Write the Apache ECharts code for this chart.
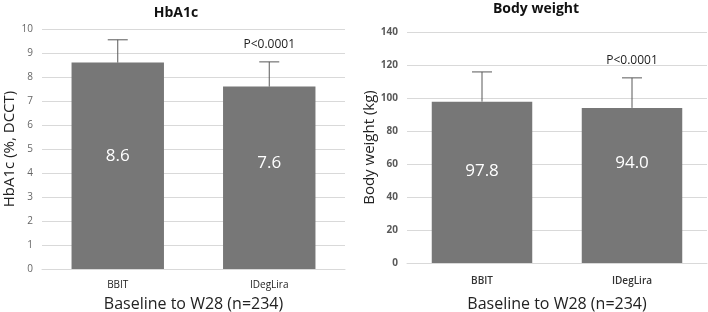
<!DOCTYPE html>
<html>
<head>
<meta charset="utf-8">
<script src="https://cdn.jsdelivr.net/npm/echarts@6/dist/echarts.min.js"></script>
<style>
  html, body { margin: 0; padding: 0; background: #fff; }
  #chart { width: 708px; height: 312px; }
</style>
</head>
<body>
<div id="chart"></div>
<script>
// data
const categories = ['BBIT', 'IDegLira'];
const hba1cMean = [8.6, 7.6];
const hba1cSD = [0.95, 1.03];
const weightMean = [97.8, 94.0];
const weightSD = [18.0, 18.2];
const pLabels = ['', 'P<0.0001'];
const hba1cLabelOffset = [-10, -15];
const weightLabelOffset = [-11, -22];

const FONT = '"Open Sans", "Noto Sans", sans-serif';
const BAR = '#777777';
const WHISKER = '#595959';

function errorBarItem(params, api) {
  const i = params.dataIndex;
  const top = api.coord([api.value(0), api.value(1) + api.value(2)]);
  const base = api.coord([api.value(0), api.value(1)]);
  const half = 10;
  const style = { stroke: WHISKER, lineWidth: 1 };
  const children = [
    { type: 'line', shape: { x1: top[0], y1: top[1], x2: base[0], y2: base[1] }, style },
    { type: 'line', shape: { x1: top[0] - half, y1: top[1], x2: top[0] + half, y2: top[1] }, style }
  ];
  if (pLabels[i]) {
    children.push({
      type: 'text',
      x: top[0], y: top[1] - 11,
      style: { text: pLabels[i], fill: '#222', font: '12px ' + FONT, align: 'center', verticalAlign: 'bottom' }
    });
  }
  return { type: 'group', children };
}

const chart = echarts.init(document.getElementById('chart'));

const axisCommon = {
  axisLine: { show: false },
  axisTick: { show: false },
  splitLine: { lineStyle: { color: '#d9d9d9' } },
  nameLocation: 'middle',
  nameTextStyle: { color: '#222', fontSize: 15, fontFamily: FONT }
};

const xCommon = {
  type: 'category',
  data: categories,
  axisLine: { lineStyle: { color: '#d9d9d9' } },
  axisTick: { show: false },
  nameLocation: 'middle',
  nameTextStyle: { color: '#222', fontSize: 16, fontFamily: FONT }
};

chart.setOption({
  animation: false,
  title: [
    { text: 'HbA1c', left: 171, top: 1, textAlign: 'center',
      textStyle: { fontSize: 14, fontWeight: 'bold', color: '#111', fontFamily: FONT } },
    { text: 'Body weight', left: 531, top: -3, textAlign: 'center',
      textStyle: { fontSize: 14, fontWeight: 'bold', color: '#111', fontFamily: FONT } }
  ],
  grid: [
    { left: 42, right: 363, top: 29, bottom: 43, outerBoundsMode: 'none', containLabel: false },
    { left: 407, right: 1, top: 32, bottom: 49, outerBoundsMode: 'none', containLabel: false }
  ],
  xAxis: [
    Object.assign({}, xCommon, { gridIndex: 0, name: 'Baseline to W28 (n=234)', nameGap: 27,
      axisLabel: { color: '#222', fontSize: 10, fontFamily: FONT, margin: 11 } }),
    Object.assign({}, xCommon, { gridIndex: 1, name: 'Baseline to W28 (n=234)', nameGap: 33,
      axisLabel: { color: '#333', fontSize: 10, fontWeight: 600, fontFamily: FONT, margin: 13 } })
  ],
  yAxis: [
    Object.assign({}, axisCommon, { gridIndex: 0, type: 'value', min: 0, max: 10, interval: 1,
      axisLabel: { color: '#666', fontSize: 10, fontFamily: FONT, margin: 9 },
      name: 'HbA1c (%, DCCT)', nameGap: 25 }),
    Object.assign({}, axisCommon, { gridIndex: 1, type: 'value', min: 0, max: 140, interval: 20,
      axisLabel: { color: '#595959', fontSize: 10, fontWeight: 'bold', fontFamily: FONT, margin: 9 },
      name: 'Body weight (kg)', nameGap: 30 })
  ],
  series: [
    {
      type: 'bar', xAxisIndex: 0, yAxisIndex: 0, barWidth: '61%',
      itemStyle: { color: BAR },
      data: hba1cMean.map((v, i) => ({
        value: v,
        label: { show: true, position: 'inside', offset: [0, hba1cLabelOffset[i]],
          color: '#fff', fontSize: 17, fontFamily: FONT, formatter: (p) => p.value.toFixed(1) }
      }))
    },
    {
      type: 'custom', xAxisIndex: 0, yAxisIndex: 0, z: 5,
      renderItem: errorBarItem,
      data: categories.map((c, i) => [i, hba1cMean[i], hba1cSD[i]])
    },
    {
      type: 'bar', xAxisIndex: 1, yAxisIndex: 1, barWidth: '67%',
      itemStyle: { color: BAR },
      data: weightMean.map((v, i) => ({
        value: v,
        label: { show: true, position: 'inside', offset: [0, weightLabelOffset[i]],
          color: '#fff', fontSize: 17, fontFamily: FONT, formatter: (p) => p.value.toFixed(1) }
      }))
    },
    {
      type: 'custom', xAxisIndex: 1, yAxisIndex: 1, z: 5,
      renderItem: errorBarItem,
      data: categories.map((c, i) => [i, weightMean[i], weightSD[i]])
    }
  ]
});
</script>
</body>
</html>
